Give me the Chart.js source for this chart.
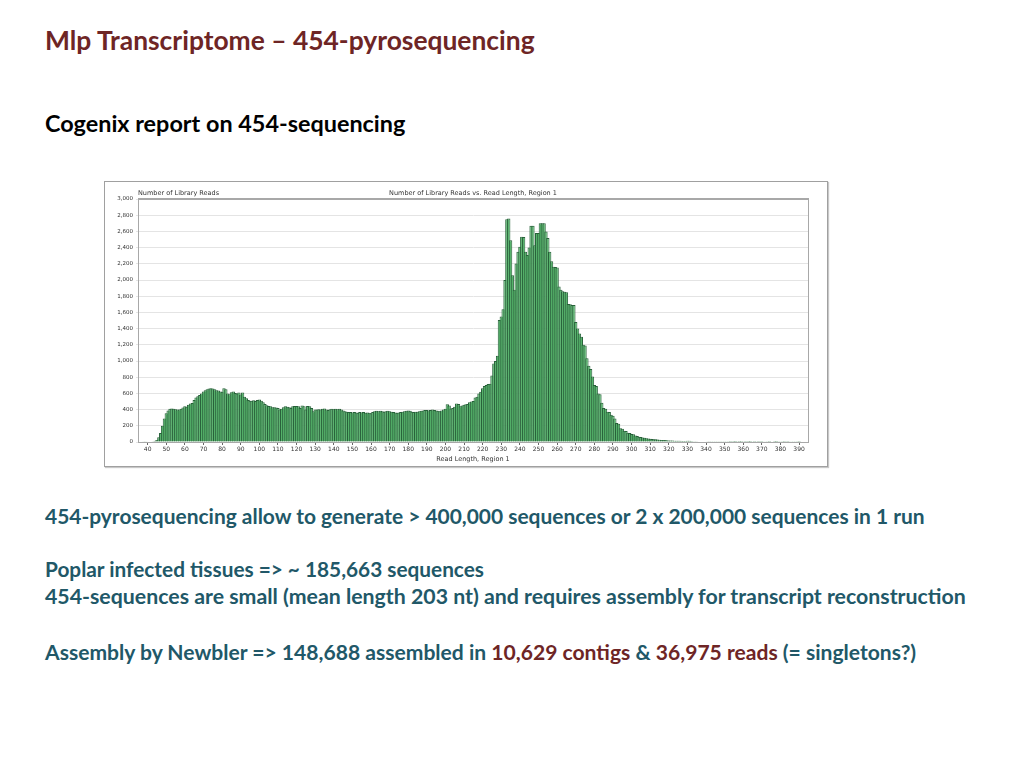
<!DOCTYPE html>
<html>
<head>
<meta charset="utf-8">
<script src="https://cdn.jsdelivr.net/npm/chart.js@4.4.1/dist/chart.umd.min.js"></script>
<style>
  html, body { margin: 0; padding: 0; background: #fff; }
  body { width: 1024px; height: 768px; position: relative; overflow: hidden; font-family: Lato, "Open Sans", sans-serif; font-weight: bold; }
  .line { position: absolute; left: 45px; white-space: nowrap; line-height: 1.2; }
  .title { color: #6e2525; font-size: 26.4px; top: 24.5px; }
  .sub { color: #000; font-size: 23.4px; top: 109px; }
  .teal { color: #215868; }
  .red { color: #6e2525; }
  #box { position: absolute; left: 104px; top: 181px; width: 722px; height: 284px; border: 1px solid #a0a0a0; box-shadow: 1px 1px 1px #c8c8c8; background: #fff; }
</style>
</head>
<body>
<div class="line title">Mlp Transcriptome – 454-pyrosequencing</div>
<div class="line sub">Cogenix report on 454-sequencing</div>
<div id="box"><canvas id="readsChart" width="722" height="284"></canvas></div>
<div class="line teal" style="top:503px;font-size:20.95px">454-pyrosequencing allow to generate &gt; 400,000 sequences or 2 x 200,000 sequences in 1 run</div>
<div class="line teal" style="top:557px;font-size:20.8px">Poplar infected tissues =&gt; ~ 185,663 sequences</div>
<div class="line teal" style="top:583.5px;font-size:21.3px">454-sequences are small (mean length 203 nt) and requires assembly for transcript reconstruction</div>
<div class="line teal" style="top:638.5px;font-size:21.08px">Assembly by Newbler =&gt; 148,688 assembled in <span class="red">10,629 contigs</span> &amp; <span class="red">36,975 reads</span> (= singletons?)</div>
<script>
// read counts per read length, starting at length 36
const firstLength = 36;
const readCounts = [
    0, 0, 2, 3, 5, 5, 5, 8, 15, 25,
    60, 110, 200, 290, 355, 390, 410, 415, 410, 405,
    400, 400, 410, 425, 440, 435, 460, 475, 480, 520,
    550, 565, 580, 600, 625, 640, 650, 660, 665, 660,
    650, 640, 635, 625, 620, 665, 650, 600, 590, 615,
    625, 605, 600, 610, 585, 610, 560, 540, 520, 510,
    510, 515, 505, 520, 525, 510, 490, 470, 455, 445,
    440, 430, 430, 425, 420, 400, 410, 430, 440, 435,
    430, 420, 440, 445, 445, 440, 420, 450, 440, 400,
    445, 440, 420, 380, 400, 400, 405, 400, 410, 415,
    400, 395, 405, 410, 405, 410, 405, 410, 400, 390,
    380, 375, 370, 370, 365, 370, 365, 360, 370, 365,
    370, 360, 365, 360, 355, 370, 380, 385, 380, 385,
    380, 375, 380, 385, 380, 375, 370, 365, 360, 365,
    370, 375, 380, 385, 390, 385, 375, 370, 375, 375,
    380, 385, 390, 395, 395, 390, 395, 400, 395, 390,
    385, 380, 390, 400, 410, 465, 450, 415, 420, 435,
    475, 470, 440, 450, 460, 465, 470, 490, 500, 505,
    550, 560, 600, 620, 665, 690, 705, 715, 720, 820,
    970, 1000, 1065, 1505, 1550, 1640, 2000, 2750, 2760, 2490,
    2060, 1880, 2205, 2350, 2410, 2535, 2530, 2350, 2310, 2400,
    2670, 2670, 2430, 2580, 2580, 2700, 2700, 2700, 2600, 2520,
    2350, 2230, 2165, 2160, 2155, 1920, 1880, 1860, 1855, 1850,
    1705, 1700, 1690, 1690, 1480, 1400, 1340, 1300, 1200, 1190,
    1035, 940, 900, 810, 705, 690, 600, 590, 485, 420,
    410, 375, 370, 335, 325, 290, 235, 225, 170, 165,
    140, 135, 115, 110, 100, 95, 80, 75, 66, 62,
    55, 52, 45, 42, 40, 38, 34, 33, 30, 28,
    26, 25, 24, 22, 20, 19, 18, 16, 15, 14,
    14, 13, 12, 12, 14, 15, 12, 10, 9, 8,
    7, 6, 6, 5, 5, 4, 4, 3, 3, 3,
    3, 2, 2, 3, 2, 2, 2, 1, 2, 1,
    1, 2, 1, 1, 0, 1, 2, 1, 1, 0,
    1, 0, 1, 2, 1, 0, 3, 3, 1, 0,
    0, 1, 1, 2, 3, 3, 1, 0, 1, 0,
    2, 3, 3, 2, 1, 0, 0, 0, 0, 0
];
const readLengths = readCounts.map((v, i) => firstLength + i);
const xTickValues = [40, 50, 60, 70, 80, 90, 100, 110, 120, 130, 140, 150, 160, 170, 180, 190,
    200, 210, 220, 230, 240, 250, 260, 270, 280, 290, 300, 310, 320, 330, 340, 350, 360, 370, 380, 390];
const chartTitle = 'Number of Library Reads vs. Read Length, Region 1';
const yLabel = 'Number of Library Reads';
const xLabel = 'Read Length, Region 1';

Chart.defaults.font.family = '"DejaVu Sans", sans-serif';
Chart.defaults.font.size = 6;
Chart.defaults.color = '#333';

// plot frame + header labels
const framePlugin = {
    id: 'frame',
    afterDraw(chart) {
        const { ctx, chartArea: a } = chart;
        ctx.save();
        ctx.strokeStyle = '#a8a8a8';
        ctx.lineWidth = 1;
        ctx.strokeRect(a.left + 0.5, a.top + 0.5, a.right - a.left, a.bottom - a.top);
        ctx.lineWidth = 2;
        ctx.beginPath();
        ctx.moveTo(a.left, a.top);
        ctx.lineTo(a.right + 1, a.top);
        ctx.stroke();
        ctx.fillStyle = '#333';
        ctx.font = '6.5px "DejaVu Sans", sans-serif';
        ctx.textBaseline = 'bottom';
        ctx.textAlign = 'left';
        ctx.fillText(yLabel, a.left, a.top - 2);
        ctx.textAlign = 'center';
        ctx.fillText(chartTitle, (a.left + a.right) / 2, a.top - 2);
        ctx.restore();
    }
};

const readsCtx = document.getElementById('readsChart').getContext('2d');
const readsChart = new Chart(readsCtx, {
    type: 'bar',
    data: {
        datasets: [{
            data: readLengths.map((x, i) => ({ x: x, y: readCounts[i] })),
            backgroundColor: '#56b36b',
            borderColor: '#28623a',
            borderWidth: 1,
            borderSkipped: 'bottom',
            barPercentage: 1.8,
            categoryPercentage: 1
        }]
    },
    options: {
        responsive: false,
        animation: false,
        layout: { padding: { left: 6, top: 17, right: 19, bottom: 3 } },
        plugins: {
            legend: { display: false },
            tooltip: { enabled: false }
        },
        scales: {
            x: {
                type: 'linear',
                offset: false,
                min: 34.8,
                max: 394.8,
                afterBuildTicks: function (scale) {
                    scale.ticks = xTickValues.map(v => ({ value: v }));
                },
                afterFit: function (scale) { scale.height = 21; },
                ticks: { maxRotation: 0, autoSkip: false, padding: 1, font: { size: 6 } },
                grid: { drawOnChartArea: false, tickLength: 3, color: '#666', offset: false },
                border: { color: '#888' },
                title: { display: true, text: xLabel, padding: 0, font: { size: 6.5 } }
            },
            y: {
                min: 0,
                max: 3000,
                afterFit: function (scale) { scale.width = 27; },
                ticks: {
                    stepSize: 200,
                    padding: 3,
                    font: { size: 5.5 },
                    callback: function (value) {
                        return value.toLocaleString('en-US');
                    }
                },
                grid: { color: '#e4e4e4', tickLength: 2 },
                border: { color: '#888' }
            }
        }
    },
    plugins: [framePlugin]
});
</script>
</body>
</html>
